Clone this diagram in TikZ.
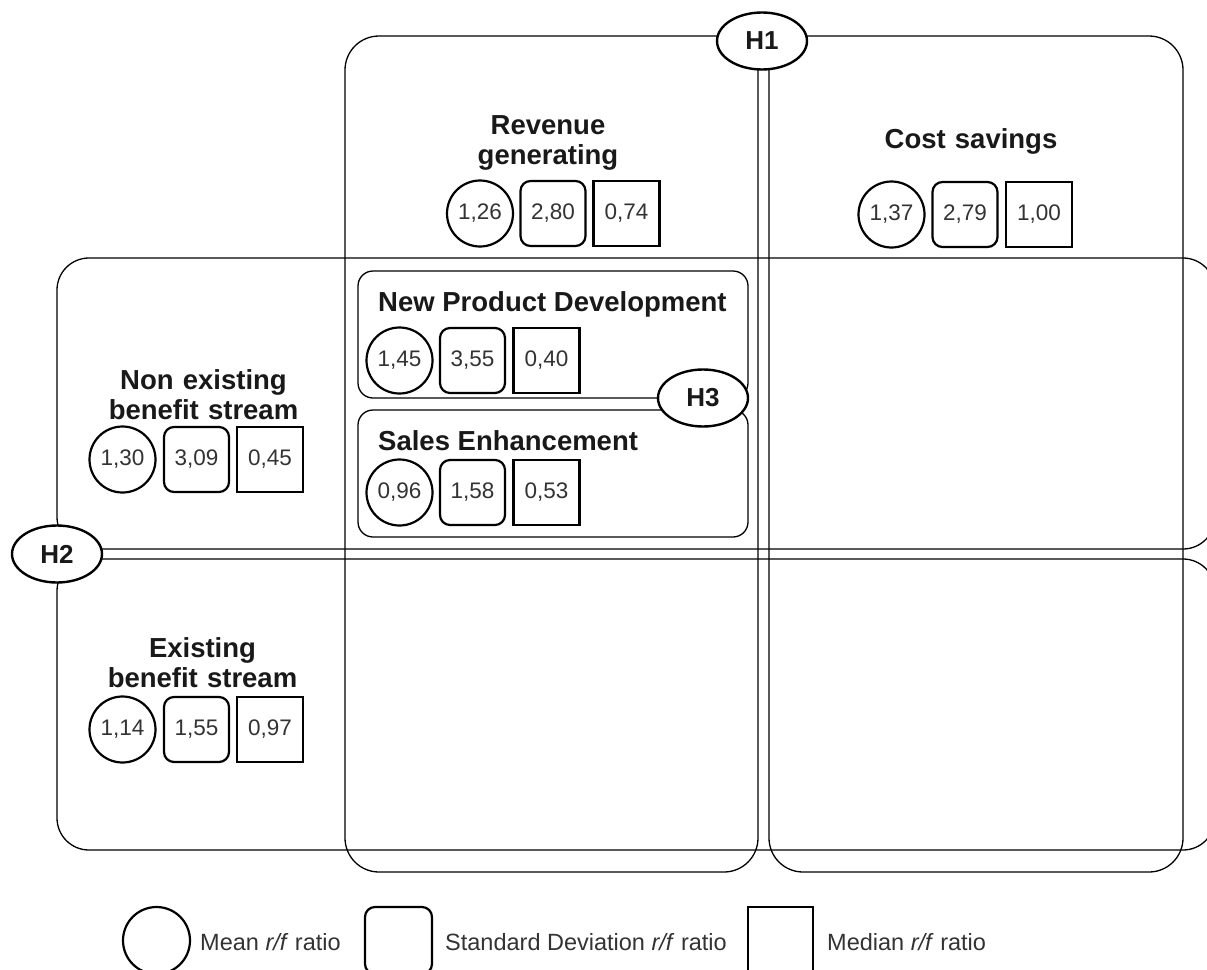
\documentclass[tikz,border=0pt]{standalone}
\usepackage{fontspec}
\setmainfont{Liberation Sans}
\usetikzlibrary{shapes.geometric}
\begin{document}
\begin{tikzpicture}[x=1pt,y=-1pt,
  bigbox/.style={draw, line width=1.3pt, rounded corners=34pt, inner sep=0pt},
  bandbox/.style={draw, line width=1.3pt, rounded corners=32pt, inner sep=0pt, minimum width=1158pt, minimum height=291pt},
  subbox/.style={draw, line width=1.3pt, rounded corners=15pt, inner sep=0pt, minimum width=390pt, minimum height=127pt},
  hyp/.style={draw, ellipse, fill=white, line width=2.4pt, minimum width=90pt, minimum height=57pt, inner sep=0pt, font=\fontsize{26}{28}\selectfont\bfseries, text=black!90},
  ctitle/.style={font=\fontsize{27.5}{30}\selectfont\bfseries, text=black!90, align=center, text width=320pt, inner sep=0pt, anchor=base},
  ltitle/.style={font=\fontsize{27.5}{30}\selectfont\bfseries, text=black!90, inner sep=0pt, anchor=base west},
  numfont/.style={font=\fontsize{22.5}{24}\selectfont, text=black!80},
  meanc/.style={draw, circle, line width=2.2pt, minimum size=66pt, inner sep=0pt, numfont},
  sdbox/.style={draw, rectangle, rounded corners=10pt, line width=2.2pt, minimum size=65pt, inner sep=0pt, numfont},
  medbox/.style={draw, rectangle, line width=2.2pt, minimum width=66pt, minimum height=65pt, inner sep=0pt, numfont},
  legtext/.style={font=\fontsize{23.5}{26}\selectfont, text=black!80, anchor=west, inner sep=0pt}
]
\clip (0,0) rectangle (1207,969);
\fill[white] (0,0) rectangle (1207,969);

% quadrants
\node[bigbox, minimum width=413pt, minimum height=836pt] (colR) at (551.5,454) {};
\node[bigbox, minimum width=414pt, minimum height=836pt] (colC) at (976,454) {};
\node[bandbox] (bandN) at (636,403.5) {};
\node[bandbox] (bandE) at (636,704.5) {};
\node[subbox] (npd) at (553,334.5) {};
\node[subbox] (se) at (553,473.5) {};

% hypotheses
\node[hyp] (h1) at (762,41) {H1};
\node[hyp] (h2) at (57,554) {H2};
\node[hyp] (h3) at (703,398) {H3};

% titles
\node[ctitle] (trg) at (548,134) {Revenue\\generating};
\node[ctitle] (tcs) at (971,148) {Cost savings};
\node[ctitle] (tne) at (203.5,389) {Non existing\\benefit stream};
\node[ctitle] (tex) at (202.5,657) {Existing\\benefit stream};
\node[ltitle] (tnp) at (378,311) {New Product Development};
\node[ltitle] (tse) at (378,450) {Sales Enhancement};

% statistics
\node[meanc] (rg1) at (480,213.5) {1,26};
\node[sdbox] (rg2) at (553,213.5) {2,80};
\node[medbox] (rg3) at (626.5,213.5) {0,74};

\node[meanc] (cs1) at (891.5,214.5) {1,37};
\node[sdbox] (cs2) at (965,214.5) {2,79};
\node[medbox] (cs3) at (1039,214.5) {1,00};

\node[meanc] (ne1) at (122.5,459.5) {1,30};
\node[sdbox] (ne2) at (196.5,459.5) {3,09};
\node[medbox] (ne3) at (270,459.5) {0,45};

\node[meanc] (ex1) at (122.5,729.5) {1,14};
\node[sdbox] (ex2) at (196.5,729.5) {1,55};
\node[medbox] (ex3) at (270,729.5) {0,97};

\node[meanc] (np1) at (399.5,360.5) {1,45};
\node[sdbox] (np2) at (472.5,360.5) {3,55};
\node[medbox] (np3) at (546.5,360.5) {0,40};

\node[meanc] (se1) at (399.5,492.5) {0,96};
\node[sdbox] (se2) at (472.5,492.5) {1,58};
\node[medbox] (se3) at (546.5,492.5) {0,53};

% legend
\node[meanc, minimum size=67pt] (lmean) at (156.5,940.5) {};
\node[legtext] (tmean) at (200,942) {Mean \textit{r/f} ratio};
\node[sdbox, minimum size=67pt] (lsd) at (398.5,940.5) {};
\node[legtext] (tsd) at (445,942) {Standard Deviation \textit{r/f} ratio};
\node[medbox, minimum width=65pt, minimum height=67pt] (lmed) at (780.5,940.5) {};
\node[legtext] (tmed) at (827,942) {Median \textit{r/f} ratio};
\end{tikzpicture}
\end{document}
